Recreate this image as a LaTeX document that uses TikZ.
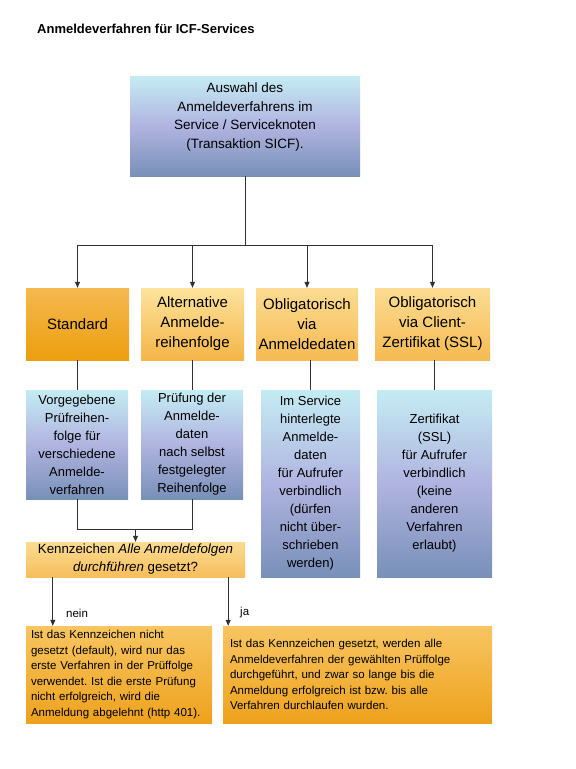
\documentclass[tikz,border=0pt]{standalone}
\usepackage{fontspec}
\setmainfont{Liberation Sans}
\usetikzlibrary{arrows.meta}
\definecolor{bTop}{HTML}{C4ECF3}
\definecolor{bMid}{HTML}{B0B4E0}
\definecolor{bBot}{HTML}{7890B8}
\definecolor{oTopA}{HTML}{F5B950}
\definecolor{oBotA}{HTML}{EC9E0E}
\definecolor{oTopB}{HTML}{FDE39C}
\definecolor{oBotB}{HTML}{F5B548}
\definecolor{oTopC}{HTML}{FBDC92}
\definecolor{oBotC}{HTML}{F6BA52}
\definecolor{oKz}{HTML}{F7BE5C}
\definecolor{oTopD}{HTML}{F8C562}
\definecolor{oBotD}{HTML}{EEA21C}
\definecolor{lineC}{HTML}{303030}
\tikzset{
  boxbase/.style={inner sep=0pt, align=center},
  bluebox/.style={boxbase, top color=bTop, bottom color=bBot, middle color=bMid},
  stdbox/.style={boxbase, top color=oTopA, bottom color=oBotA},
  altbox/.style={boxbase, top color=oTopB, bottom color=oBotB},
  oblbox/.style={boxbase, top color=oTopC, bottom color=oBotC},
  kzbox/.style={boxbase, top color=oTopC, bottom color=oKz},
  resbox/.style={boxbase, align=left, top color=oTopD, bottom color=oBotD},
  rowtwo/.style={font=\fontsize{15}{20}\selectfont, minimum height=72pt},
  rowthree/.style={font=\fontsize{13}{18}\selectfont},
  small/.style={font=\fontsize{11.5}{15.5}\selectfont},
  conn/.style={draw=lineC, line width=0.8pt},
  arr/.style={conn, -{Triangle[length=6pt,width=5pt]}},
}
\begin{document}
\frenchspacing
\begin{tikzpicture}[x=1pt,y=-1pt]
\useasboundingbox[fill=white] (0,0) rectangle (576,769);

% title
\node[anchor=base west, inner sep=0pt, font=\bfseries\fontsize{13}{15}\selectfont] (title) at (37,33) {Anmeldeverfahren für ICF-Services};

% top box
\node[bluebox, minimum width=230pt, minimum height=100pt] (top) at (245,126) {};
\node[align=center, inner sep=0pt, font=\fontsize{13.5}{18.7}\selectfont] (toptxt) at ([yshift=9pt]top.center)
  {Auswahl des\\Anmeldeverfahrens im\\Service / Serviceknoten\\(Transaktion SICF).};

% row 2
\node[stdbox, rowtwo, minimum width=103pt] (std) at (77.5,324) {Standard};
\node[altbox, rowtwo, minimum width=103pt] (alt) at (192.5,324) {Alternative\\Anmelde-\\reihenfolge};
\node[oblbox, rowtwo, minimum width=102pt] (oa) at (307,324) {Obligatorisch\\via\\Anmeldedaten};
\node[oblbox, rowtwo, minimum width=115pt] (oc) at (432.5,324) {Obligatorisch\\via Client-\\Zertifikat (SSL)};

% row 3
\node[bluebox, rowthree, minimum width=102pt, minimum height=109pt] (ra) at (77,444.5)
  {Vorgegebene\\Prüfreihen-\\folge für\\verschiedene\\Anmelde-\\verfahren};
\node[bluebox, rowthree, minimum width=102pt, minimum height=109pt] (rb) at (192,444.5)
  {Prüfung der\\Anmelde-\\daten\\nach selbst\\festgelegter\\Reihenfolge};
\node[bluebox, rowthree, minimum width=99pt, minimum height=187pt] (rc) at (310.5,483.5)
  {Im Service\\hinterlegte\\Anmelde-\\daten\\für Aufrufer\\verbindlich\\(dürfen\\nicht über-\\schrieben\\werden)};
\node[bluebox, rowthree, minimum width=115pt, minimum height=187pt] (rd) at (434.5,483.5)
  {Zertifikat\\(SSL)\\für Aufrufer\\verbindlich\\(keine\\anderen\\Verfahren\\erlaubt)};

% decision
\node[kzbox, font=\fontsize{13.3}{18}\selectfont, minimum width=219pt, minimum height=35pt] (kz) at (135.5,559.5)
  {Kennzeichen \textit{Alle Anmeldefolgen}\\\textit{durchführen} gesetzt?};

% results
\node[resbox, small, minimum width=186pt, minimum height=97pt, text width=176pt] (nein) at (119,674.5)
  {Ist das Kennzeichen nicht\\gesetzt (default), wird nur das\\erste Verfahren in der Prüffolge\\verwendet. Ist die erste Prüfung\\nicht erfolgreich, wird die\\Anmeldung abgelehnt (http~401).};
\node[resbox, small, minimum width=269pt, minimum height=97pt, text width=255pt] (ja) at (357.5,674.5)
  {Ist das Kennzeichen gesetzt, werden alle\\Anmeldeverfahren der gewählten Prüffolge\\durchgeführt, und zwar so lange bis die\\Anmeldung erfolgreich ist bzw. bis alle\\Verfahren durchlaufen wurden.};

% connectors top -> row 2
\coordinate (split) at (245,245);
\draw[conn] (top.south) -- (split);
\draw[arr] (split) -| (std.north);
\draw[arr] (split) -| (alt.north);
\draw[arr] (split) -| (oa.north);
\draw[arr] (split) -| (oc.north);

% row 2 -> row 3
\draw[conn] (std.south -| ra.north) -- (ra.north);
\draw[conn] (alt.south -| rb.north) -- (rb.north);
\draw[conn] (oa.south -| rc.north) -- (rc.north);
\draw[conn] (oc.south -| rd.north) -- (rd.north);

% merge -> decision
\coordinate (merge) at (135.5,529);
\draw[conn] (ra.south) |- (merge);
\draw[conn] (rb.south) |- (merge);
\draw[arr] (merge) -- (kz.north);

% decision -> results
\draw[arr] ([xshift=27pt]kz.south west) -- ([xshift=27pt]nein.north west);
\draw[arr] ([xshift=-17pt]kz.south east) -- ([xshift=-17pt]kz.south east |- ja.north);

\node[anchor=west, inner sep=0pt, small] (lnein) at (66,613) {nein};
\node[anchor=west, inner sep=0pt, small] (lja) at (240,613) {ja};
\end{tikzpicture}
\end{document}
